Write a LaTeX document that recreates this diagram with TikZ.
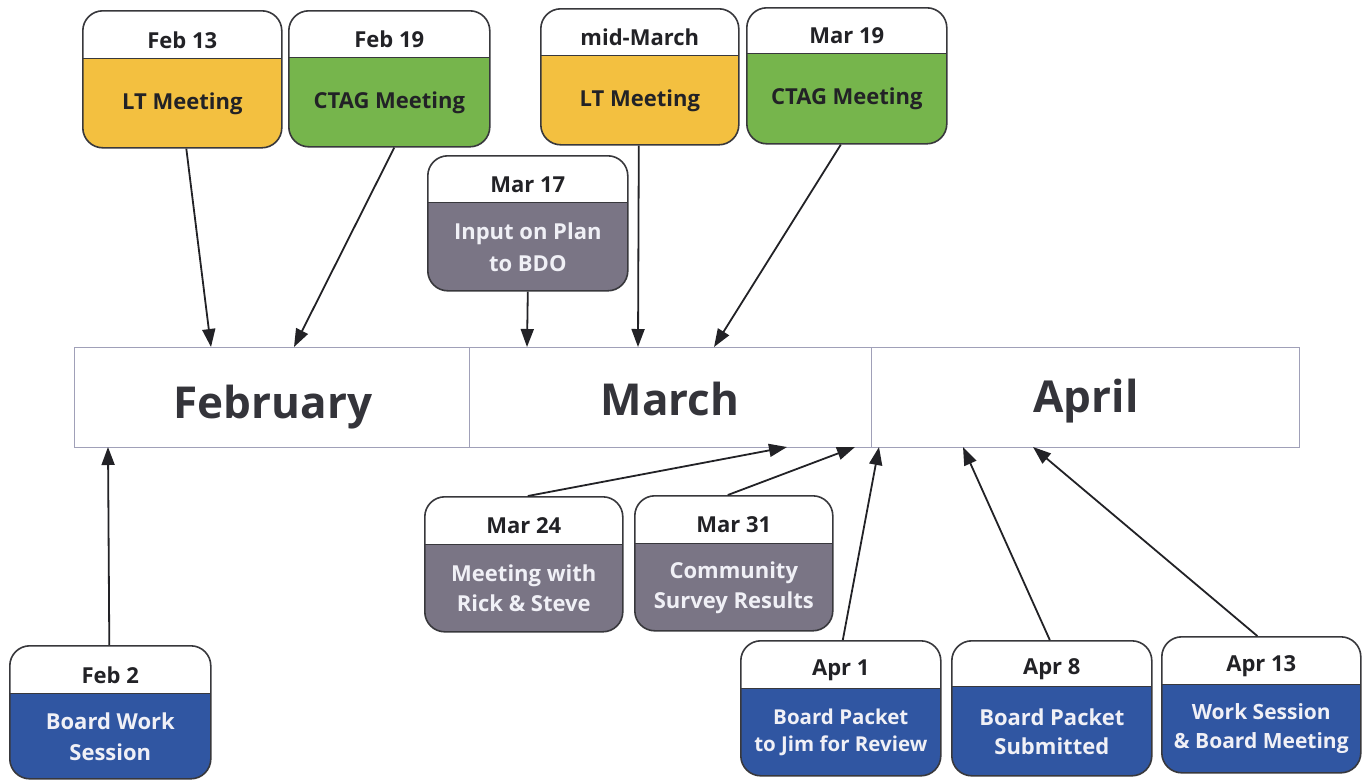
\documentclass[tikz,border=0pt]{standalone}
\usepackage{fontspec}
\setmainfont{Open Sans}
\usetikzlibrary{arrows.meta,calc}
\definecolor{evyellow}{RGB}{243,192,64}
\definecolor{evgreen}{RGB}{118,181,76}
\definecolor{evgray}{RGB}{122,117,133}
\definecolor{evblue}{RGB}{48,86,162}
\definecolor{lighttxt}{RGB}{240,240,246}
\definecolor{darktxt}{RGB}{34,34,38}
\definecolor{barline}{RGB}{160,160,184}
\definecolor{monthtxt}{RGB}{52,52,58}
\tikzset{
  evframe/.style={draw=darktxt!90, line width=1.6pt, rounded corners=20pt, fill=white, inner sep=0pt},
  boxline/.style={draw=darktxt!90, line width=1.2pt, sharp corners},
  hdrtext/.style={font=\bfseries\fontsize{22}{26}\selectfont, text=darktxt, inner sep=0pt},
  bodytext/.style 2 args={font=\bfseries\fontsize{#1}{#2}\selectfont, align=center, inner sep=0pt},
  monthcell/.style={draw=barline, line width=1.3pt, minimum height=100pt, inner sep=0pt, anchor=north west},
  monthtext/.style={font=\bfseries\fontsize{44}{50}\selectfont, text=monthtxt, anchor=base, inner sep=0pt},
  conn/.style={draw=darktxt, line width=1.8pt, -{Triangle[length=18pt,width=13pt]}},
}
% name, corner, width, height, header height, fill, header, body, body style
\newcommand\evt[9]{%
  \node[evframe, minimum width=#3pt, minimum height=#4pt, anchor=north west,
    path picture={\fill[#6, sharp corners] (path picture bounding box.south west) rectangle ([yshift=-#5pt]path picture bounding box.north east);
      \draw[boxline] ([yshift=-#5pt]path picture bounding box.north west) -- ([yshift=-#5pt]path picture bounding box.north east);}]
    (#1) at #2 {};
  \node[hdrtext] (#1-h) at ([yshift=-#5pt/2-6pt]#1.north) {#7};
  \node[#9] (#1-b) at ($(#1.south)!0.5!([yshift=-#5pt]#1.north)$) {#8};
}
\begin{document}
\begin{tikzpicture}[x=1pt,y=-1pt]
\useasboundingbox[fill=white] (0,0) rectangle (1367,780);

% month bar
\node[monthcell, minimum width=395pt] (feb) at (74,347) {};
\node[monthcell, minimum width=402pt] (mar) at (469,347) {};
\node[monthcell, minimum width=428pt] (apr) at (871,347) {};
\node[monthtext] (feb-t) at (273,418) {February};
\node[monthtext] (mar-t) at (670,415) {March};
\node[monthtext] (apr-t) at (1086,412) {April};

% events above
\evt{feb13}{(82,10)}{199}{137}{48}{evyellow}{Feb 13}{LT Meeting}{bodytext={22}{32},text=darktxt}
\evt{feb19}{(288,10)}{201}{136}{47}{evgreen}{Feb 19}{CTAG Meeting}{bodytext={22}{32},text=darktxt}
\evt{midmar}{(540,8)}{198}{136}{47}{evyellow}{mid-March}{LT Meeting}{bodytext={22}{32},text=darktxt}
\evt{mar19}{(746,7)}{200}{136}{46}{evgreen}{Mar 19}{CTAG Meeting}{bodytext={22}{32},text=darktxt}
\evt{mar17}{(427,155)}{200}{135}{47}{evgray}{Mar 17}{Input on Plan\\to BDO}{bodytext={22}{32},text=lighttxt}

% events below
\evt{mar24}{(424,496)}{198}{135}{48}{evgray}{Mar 24}{Meeting with\\Rick \& Steve}{bodytext={22}{30},text=lighttxt}
\evt{mar31}{(634,495)}{198}{135}{48}{evgray}{Mar 31}{Community\\Survey Results}{bodytext={22}{30},text=lighttxt}
\evt{feb2}{(9,645)}{201}{133}{48}{evblue}{Feb 2}{Board Work\\Session}{bodytext={22}{31},text=lighttxt}
\evt{apr1}{(740,640)}{200}{135}{48}{evblue}{Apr 1}{Board Packet\\to Jim for Review}{bodytext={20.5}{27},text=lighttxt}
\evt{apr8}{(951,640)}{200}{135}{46}{evblue}{Apr 8}{Board Packet\\Submitted}{bodytext={22}{29},text=lighttxt}
\evt{apr13}{(1161,636)}{199}{136}{48}{evblue}{Apr 13}{Work Session\\\& Board Meeting}{bodytext={21}{29},text=lighttxt}

% arrow targets on the bar
\coordinate (t-feb13) at (211,347);
\coordinate (t-feb19) at (294,347);
\coordinate (t-mar17) at (527,347);
\coordinate (t-midmar) at (638,347);
\coordinate (t-mar19) at (714,347);
\coordinate (t-feb2) at (108,447);
\coordinate (t-mar24) at (787,447);
\coordinate (t-mar31) at (855,447);
\coordinate (t-apr1) at (879,447);
\coordinate (t-apr8) at (963,447);
\coordinate (t-apr13) at (1033,447);

\draw[conn] ([xshift=4pt]feb13.south) -- (t-feb13);
\draw[conn] ([xshift=5pt]feb19.south) -- (t-feb19);
\draw[conn] (mar17.south) -- (t-mar17);
\draw[conn] ([xshift=-1pt]midmar.south) -- (t-midmar);
\draw[conn] ([xshift=-6pt]mar19.south) -- (t-mar19);
\draw[conn] ([xshift=-1pt]feb2.north) -- (t-feb2);
\draw[conn] ([xshift=4pt]mar24.north) -- (t-mar24);
\draw[conn] ([xshift=-6pt]mar31.north) -- (t-mar31);
\draw[conn] ([xshift=2pt]apr1.north) -- (t-apr1);
\draw[conn] ([xshift=-2pt]apr8.north) -- (t-apr8);
\draw[conn] ([xshift=-4pt]apr13.north) -- (t-apr13);
\end{tikzpicture}
\end{document}
